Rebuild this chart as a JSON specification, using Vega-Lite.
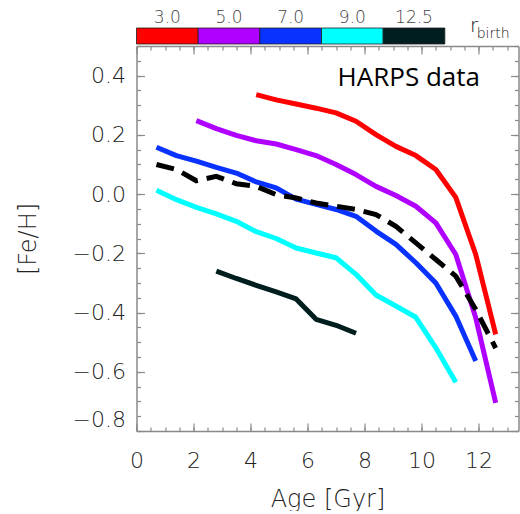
{
  "$schema": "https://vega.github.io/schema/vega-lite/v6.json",
  "background": "white",
  "padding": {"left": 15.5, "top": 8, "right": 0, "bottom": 0},
  "spacing": 0,
  "config": {
    "view": {"stroke": null},
    "font": "DejaVu Sans",
    "axis": {"grid": false, "domainColor": "#8a8a8a", "tickColor": "#8a8a8a", "domainWidth": 1.5, "tickWidth": 1.2, "labelColor": "#222222", "titleColor": "#222222", "labelFont": "DejaVu Sans", "titleFont": "DejaVu Sans", "labelFontWeight": 200, "titleFontWeight": 200}
  },
  "vconcat": [
    {
      "width": 370,
      "height": 16,
      "layer": [
        {
          "data": {"values": [{"r": "3.0"}, {"r": "5.0"}, {"r": "7.0"}, {"r": "9.0"}, {"r": "12.5"}]},
          "mark": {"type": "rect", "stroke": "#1e1e1e", "strokeWidth": 0.8},
          "encoding": {
            "x": {"field": "r", "type": "nominal", "sort": null,
                  "scale": {"domain": ["3.0", "5.0", "7.0", "9.0", "12.5", "r"], "paddingInner": 0, "paddingOuter": 0},
                  "axis": {"orient": "top", "values": ["3.0", "5.0", "7.0", "9.0", "12.5"], "ticks": false, "domain": false, "labelAngle": 0, "labelFontSize": 17, "labelColor": "#444444", "labelPadding": 2, "title": null}},
            "color": {"field": "r", "type": "nominal",
                      "scale": {"domain": ["3.0", "5.0", "7.0", "9.0", "12.5"], "range": ["#ff0000", "#b000ff", "#0a32ff", "#00ffff", "#001e1e"]},
                      "legend": null}
          }
        },
        {
          "data": {"values": [{"label": "r"}]},
          "mark": {"type": "text", "fontSize": 20, "fontWeight": 200, "align": "center", "baseline": "alphabetic", "dx": -1.5, "dy": -4, "color": "#111111"},
          "encoding": {"x": {"datum": "r"}, "text": {"field": "label"}}
        },
        {
          "data": {"values": [{"label": "birth"}]},
          "mark": {"type": "text", "fontSize": 14, "fontWeight": 200, "align": "left", "baseline": "alphabetic", "dx": 1, "dy": 2, "color": "#111111"},
          "encoding": {"x": {"datum": "r"}, "text": {"field": "label"}}
        }
      ]
    },
    {
      "width": 382,
      "height": 385,
      "data": {"values": [
        {"age": 4.2, "feh": 0.336, "r": "3.0"}, {"age": 4.9, "feh": 0.318, "r": "3.0"}, {"age": 5.6, "feh": 0.304, "r": "3.0"}, {"age": 6.3, "feh": 0.290, "r": "3.0"}, {"age": 7.0, "feh": 0.274, "r": "3.0"}, {"age": 7.7, "feh": 0.246, "r": "3.0"}, {"age": 8.4, "feh": 0.201, "r": "3.0"}, {"age": 9.1, "feh": 0.161, "r": "3.0"}, {"age": 9.8, "feh": 0.130, "r": "3.0"}, {"age": 10.5, "feh": 0.083, "r": "3.0"}, {"age": 11.2, "feh": -0.011, "r": "3.0"}, {"age": 11.9, "feh": -0.204, "r": "3.0"}, {"age": 12.6, "feh": -0.474, "r": "3.0"},
        {"age": 2.1, "feh": 0.248, "r": "5.0"}, {"age": 2.8, "feh": 0.221, "r": "5.0"}, {"age": 3.5, "feh": 0.198, "r": "5.0"}, {"age": 4.2, "feh": 0.180, "r": "5.0"}, {"age": 4.9, "feh": 0.169, "r": "5.0"}, {"age": 5.6, "feh": 0.150, "r": "5.0"}, {"age": 6.3, "feh": 0.130, "r": "5.0"}, {"age": 7.0, "feh": 0.100, "r": "5.0"}, {"age": 7.7, "feh": 0.066, "r": "5.0"}, {"age": 8.4, "feh": 0.026, "r": "5.0"}, {"age": 9.1, "feh": -0.005, "r": "5.0"}, {"age": 9.8, "feh": -0.041, "r": "5.0"}, {"age": 10.5, "feh": -0.097, "r": "5.0"}, {"age": 11.2, "feh": -0.204, "r": "5.0"}, {"age": 11.9, "feh": -0.418, "r": "5.0"}, {"age": 12.6, "feh": -0.705, "r": "5.0"},
        {"age": 0.7, "feh": 0.158, "r": "7.0"}, {"age": 1.4, "feh": 0.130, "r": "7.0"}, {"age": 2.1, "feh": 0.111, "r": "7.0"}, {"age": 2.8, "feh": 0.090, "r": "7.0"}, {"age": 3.5, "feh": 0.071, "r": "7.0"}, {"age": 4.2, "feh": 0.041, "r": "7.0"}, {"age": 4.9, "feh": 0.021, "r": "7.0"}, {"age": 5.6, "feh": -0.017, "r": "7.0"}, {"age": 6.3, "feh": -0.035, "r": "7.0"}, {"age": 7.0, "feh": -0.052, "r": "7.0"}, {"age": 7.7, "feh": -0.075, "r": "7.0"}, {"age": 8.4, "feh": -0.125, "r": "7.0"}, {"age": 9.1, "feh": -0.170, "r": "7.0"}, {"age": 9.8, "feh": -0.232, "r": "7.0"}, {"age": 10.5, "feh": -0.300, "r": "7.0"}, {"age": 11.2, "feh": -0.412, "r": "7.0"}, {"age": 11.9, "feh": -0.564, "r": "7.0"},
        {"age": 0.7, "feh": 0.013, "r": "9.0"}, {"age": 1.4, "feh": -0.019, "r": "9.0"}, {"age": 2.1, "feh": -0.045, "r": "9.0"}, {"age": 2.8, "feh": -0.067, "r": "9.0"}, {"age": 3.5, "feh": -0.092, "r": "9.0"}, {"age": 4.2, "feh": -0.127, "r": "9.0"}, {"age": 4.9, "feh": -0.150, "r": "9.0"}, {"age": 5.6, "feh": -0.182, "r": "9.0"}, {"age": 6.3, "feh": -0.199, "r": "9.0"}, {"age": 7.0, "feh": -0.215, "r": "9.0"}, {"age": 7.7, "feh": -0.271, "r": "9.0"}, {"age": 8.4, "feh": -0.341, "r": "9.0"}, {"age": 9.1, "feh": -0.378, "r": "9.0"}, {"age": 9.8, "feh": -0.416, "r": "9.0"}, {"age": 10.5, "feh": -0.519, "r": "9.0"}, {"age": 11.2, "feh": -0.635, "r": "9.0"},
        {"age": 2.8, "feh": -0.260, "r": "12.5"}, {"age": 3.5, "feh": -0.285, "r": "12.5"}, {"age": 4.2, "feh": -0.308, "r": "12.5"}, {"age": 4.9, "feh": -0.330, "r": "12.5"}, {"age": 5.6, "feh": -0.354, "r": "12.5"}, {"age": 6.3, "feh": -0.423, "r": "12.5"}, {"age": 7.0, "feh": -0.443, "r": "12.5"}, {"age": 7.7, "feh": -0.470, "r": "12.5"}
      ]},
      "resolve": {"axis": {"x": "independent", "y": "independent"}},
      "layer": [
        {
          "transform": [{"filter": "datum.r !== '12.5'"}],
          "mark": {"type": "line", "strokeWidth": 5, "strokeJoin": "round"},
          "encoding": {
            "x": {"field": "age", "type": "quantitative",
                  "scale": {"domain": [0, 13.4], "nice": false, "zero": false},
                  "axis": {"orient": "bottom", "values": [0, 2, 4, 6, 8, 10, 12], "format": "d", "tickSize": -8, "labelPadding": 27, "labelFontSize": 22, "labelFlush": false, "labelOverlap": false, "title": "Age [Gyr]", "titleFontSize": 24, "titlePadding": 16}},
            "y": {"field": "feh", "type": "quantitative",
                  "scale": {"domain": [-0.8, 0.5], "nice": false, "zero": false},
                  "axis": {"orient": "left", "values": [-0.8, -0.6, -0.4, -0.2, 0, 0.2, 0.4], "format": ".1f", "tickSize": -8, "labelPadding": 19, "labelFontSize": 22, "labelFlush": true, "labelOverlap": false, "title": "[Fe/H]", "titleFontSize": 24, "titlePadding": 32}},
            "color": {"field": "r", "type": "nominal",
                      "scale": {"domain": ["3.0", "5.0", "7.0", "9.0", "12.5"], "range": ["#ff0000", "#b000ff", "#0a32ff", "#00ffff", "#001e1e"]},
                      "legend": null}
          }
        },
        {
          "transform": [{"filter": "datum.r === '12.5'"}],
          "mark": {"type": "line", "strokeWidth": 5, "strokeJoin": "round"},
          "encoding": {
            "x": {"field": "age", "type": "quantitative",
                  "scale": {"domain": [0, 13.4], "nice": false, "zero": false},
                  "axis": {"orient": "top", "values": [0, 0.5, 1, 1.5, 2, 2.5, 3, 3.5, 4, 4.5, 5, 5.5, 6, 6.5, 7, 7.5, 8, 8.5, 9, 9.5, 10, 10.5, 11, 11.5, 12, 12.5, 13], "tickSize": -4, "labels": false, "domain": false, "title": null}},
            "y": {"field": "feh", "type": "quantitative",
                  "scale": {"domain": [-0.8, 0.5], "nice": false, "zero": false},
                  "axis": {"orient": "right", "values": [-0.8, -0.75, -0.7, -0.65, -0.6, -0.55, -0.5, -0.45, -0.4, -0.35, -0.3, -0.25, -0.2, -0.15, -0.1, -0.05, 0, 0.05, 0.1, 0.15, 0.2, 0.25, 0.3, 0.35, 0.4, 0.45, 0.5], "tickSize": -4, "labels": false, "domain": false, "title": null}},
            "color": {"field": "r", "type": "nominal",
                      "scale": {"domain": ["3.0", "5.0", "7.0", "9.0", "12.5"], "range": ["#ff0000", "#b000ff", "#0a32ff", "#00ffff", "#001e1e"]},
                      "legend": null}
          }
        },
        {
          "data": {"values": [
            {"age": 0.7, "feh": 0.100}, {"age": 1.4, "feh": 0.083}, {"age": 2.1, "feh": 0.045}, {"age": 2.8, "feh": 0.060}, {"age": 3.5, "feh": 0.035}, {"age": 4.2, "feh": 0.026}, {"age": 4.9, "feh": -0.002}, {"age": 5.6, "feh": -0.013}, {"age": 6.3, "feh": -0.030}, {"age": 7.0, "feh": -0.041}, {"age": 7.7, "feh": -0.052}, {"age": 8.4, "feh": -0.069}, {"age": 9.1, "feh": -0.109}, {"age": 9.8, "feh": -0.165}, {"age": 10.5, "feh": -0.221}, {"age": 11.2, "feh": -0.277}, {"age": 11.9, "feh": -0.390}, {"age": 12.6, "feh": -0.520}
          ]},
          "mark": {"type": "line", "strokeWidth": 5, "color": "#000000", "strokeDash": [18, 9], "strokeCap": "butt"},
          "encoding": {
            "x": {"field": "age", "type": "quantitative",
                  "scale": {"domain": [0, 13.4], "nice": false, "zero": false},
                  "axis": {"orient": "bottom", "values": [0, 0.5, 1, 1.5, 2, 2.5, 3, 3.5, 4, 4.5, 5, 5.5, 6, 6.5, 7, 7.5, 8, 8.5, 9, 9.5, 10, 10.5, 11, 11.5, 12, 12.5, 13], "tickSize": -4, "labels": false, "domain": false, "title": null}},
            "y": {"field": "feh", "type": "quantitative",
                  "scale": {"domain": [-0.8, 0.5], "nice": false, "zero": false},
                  "axis": {"orient": "left", "values": [-0.8, -0.75, -0.7, -0.65, -0.6, -0.55, -0.5, -0.45, -0.4, -0.35, -0.3, -0.25, -0.2, -0.15, -0.1, -0.05, 0, 0.05, 0.1, 0.15, 0.2, 0.25, 0.3, 0.35, 0.4, 0.45, 0.5], "tickSize": -4, "labels": false, "domain": false, "title": null}}
          }
        },
        {
          "data": {"values": [{"label": "HARPS data"}]},
          "mark": {"type": "text", "font": "Open Sans", "fontSize": 26, "align": "right", "baseline": "alphabetic", "color": "#000000"},
          "encoding": {
            "x": {"datum": 12.05, "type": "quantitative",
                  "scale": {"domain": [0, 13.4], "nice": false, "zero": false},
                  "axis": {"orient": "top", "values": [0, 2, 4, 6, 8, 10, 12], "tickSize": -8, "labels": false, "title": null}},
            "y": {"datum": 0.364, "type": "quantitative",
                  "scale": {"domain": [-0.8, 0.5], "nice": false, "zero": false},
                  "axis": {"orient": "right", "values": [-0.8, -0.6, -0.4, -0.2, 0, 0.2, 0.4], "tickSize": -8, "labels": false, "title": null}},
            "text": {"field": "label"}
          }
        }
      ]
    }
  ]
}
